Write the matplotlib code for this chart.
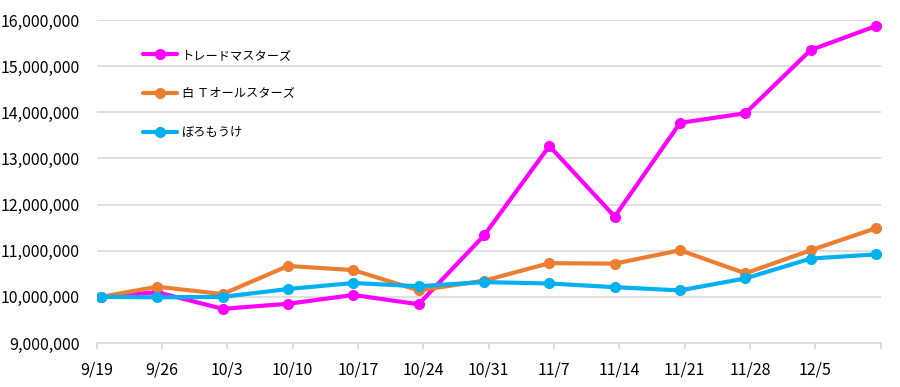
import matplotlib
matplotlib.use("Agg")
import matplotlib.pyplot as plt
import pandas as pd

plt.rcParams['font.family'] = ['Noto Sans CJK JP', 'DejaVu Sans']

# 日付（週ごとの記録日）
dates = ['2022-09-19', '2022-09-25', '2022-10-02', '2022-10-09', '2022-10-16',
         '2022-10-23', '2022-10-30', '2022-11-06', '2022-11-13', '2022-11-20',
         '2022-11-27', '2022-12-04', '2022-12-11']

trade_masters = [10000000, 10100000, 9740000, 9850000, 10040000, 9840000, 11330000,
                 13270000, 11740000, 13770000, 13980000, 15350000, 15870000]
white_t = [10000000, 10220000, 10060000, 10670000, 10580000, 10140000, 10350000,
           10730000, 10720000, 11010000, 10510000, 11010000, 11490000]
boro = [10000000, 9990000, 10000000, 10170000, 10300000, 10230000, 10320000,
        10290000, 10210000, 10140000, 10400000, 10830000, 10920000]

series_names = ['トレードマスターズ', '白 Ｔオールスターズ', 'ぼろもうけ']
series_colors = ['#FF00FF', '#ED7D31', '#00B0F0']

tick_dates = pd.date_range('2022-09-19', '2022-12-12', freq='7D')

# 各点は日の中央に置く（Excel の日付軸と同じ）
x = pd.to_datetime(dates) + pd.Timedelta(hours=12)

fig = plt.figure(figsize=(9, 3.87), dpi=100)
ax = fig.add_axes([0.1074, 0.1137, 0.8712, 0.8346])

for vals, name, col in zip([trade_masters, white_t, boro], series_names, series_colors):
    ax.plot(x, vals, color=col, lw=3.0, marker='o', markersize=7, label=name,
            solid_capstyle='round', solid_joinstyle='round')

ax.set_ylim(9000000, 16000000)
ax.set_yticks(range(9000000, 16000001, 1000000))
ax.yaxis.set_major_formatter(matplotlib.ticker.FuncFormatter(lambda v, p: f'{int(v):,}'))
ax.set_xlim(tick_dates[0], tick_dates[-1])
ax.set_xticks(tick_dates)
labels = [f'{d.month}/{d.day}' for d in tick_dates]
labels[-1] = ''
ax.set_xticklabels(labels)

ax.grid(axis='y', color='#D9D9D9', lw=1.2)
ax.set_axisbelow(True)
for s in ['top', 'right', 'left']:
    ax.spines[s].set_visible(False)
ax.spines['bottom'].set_color('#D9D9D9')
ax.spines['bottom'].set_linewidth(1.2)
ax.tick_params(axis='y', length=0, pad=12, labelsize=11.5, labelcolor='#000000')
ax.tick_params(axis='x', length=4, width=1.2, color='#D9D9D9', pad=9, labelsize=11.5)

leg = ax.legend(loc='upper left', bbox_to_anchor=(0.045, 0.945), frameon=False,
                fontsize=8.8, handlelength=2.8, handletextpad=0.4, labelspacing=2.1)

fig.savefig('out.png', dpi=100)
